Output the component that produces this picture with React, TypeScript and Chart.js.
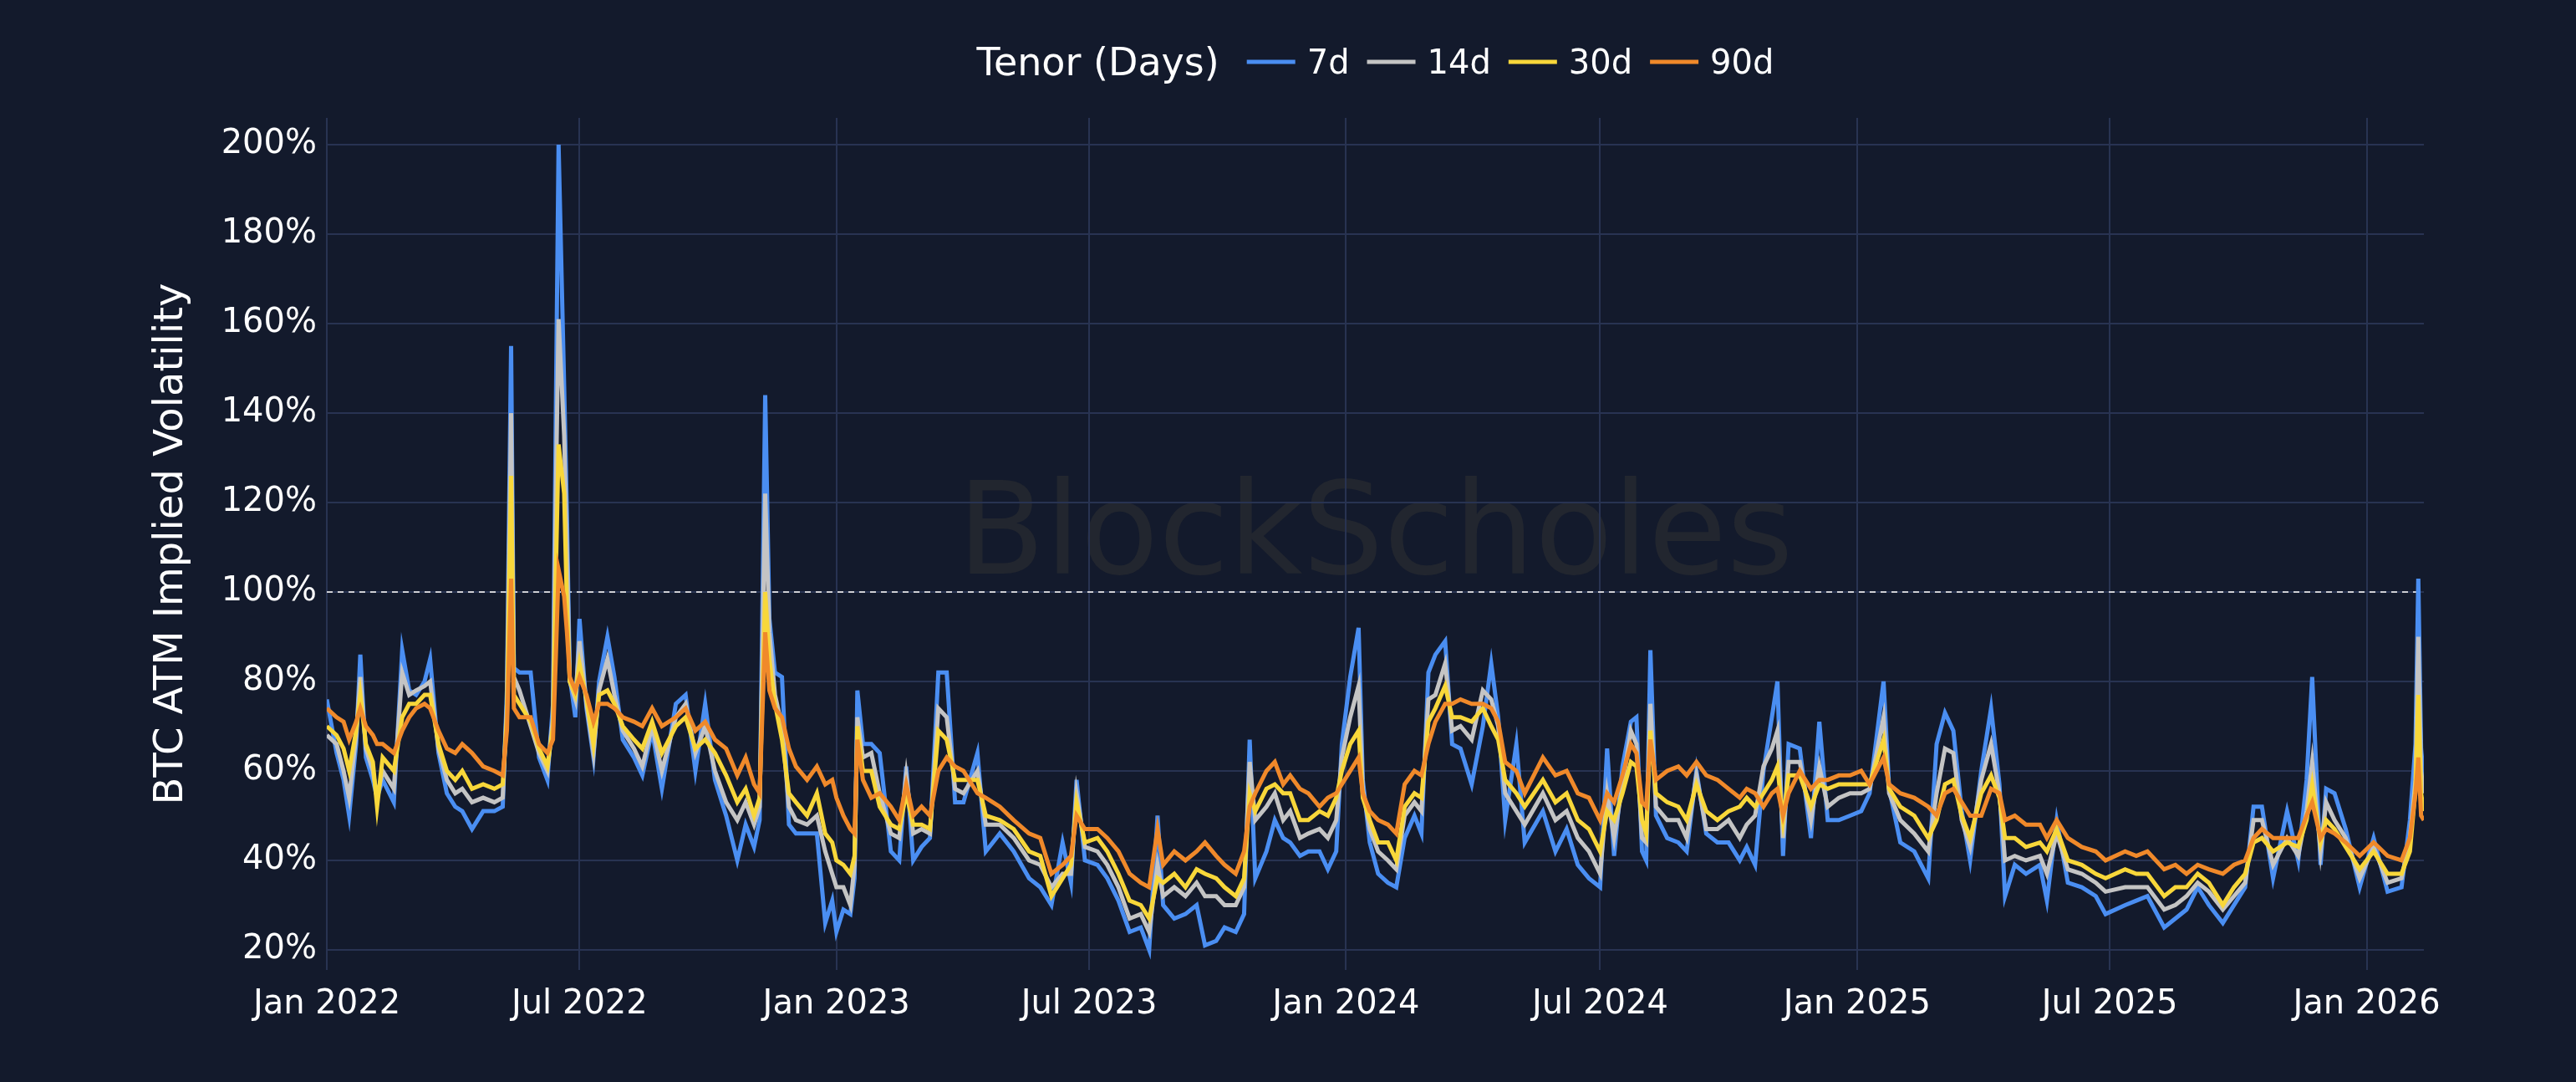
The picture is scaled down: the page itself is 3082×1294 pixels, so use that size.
import React, { useEffect, useRef } from 'react';
import { Chart, registerables } from 'chart.js';

Chart.register(...registerables);

const FONT = '"DejaVu Sans", Verdana, sans-serif';
const BG = '#131a2c';
const GRID = '#283352';

const START_DATE = '2022-01-01';
const TICK_DATES = ['2022-01-01', '2022-07-01', '2023-01-01', '2023-07-01', '2024-01-01', '2024-07-01', '2025-01-01', '2025-07-01', '2026-01-01'];
const TICK_LABELS = ['Jan 2022', 'Jul 2022', 'Jan 2023', 'Jul 2023', 'Jan 2024', 'Jul 2024', 'Jan 2025', 'Jul 2025', 'Jan 2026'];

const LEGEND_TITLE = 'Tenor (Days)';
const SERIES_LABELS = ['7d', '14d', '30d', '90d'];
const SERIES_COLORS = ['#4a8ef2', '#c4c4c4', '#f8d73a', '#f0892a'];

// days since 2022-01-01
const DAYS = [
  0, 7, 12, 16, 21, 24, 28, 33, 36, 40,
  48, 54, 59, 64, 70, 74, 80, 86, 92, 97,
  104, 112, 120, 126, 129, 132, 134, 138, 146, 152,
  158, 162, 164, 166, 170, 172, 174, 178, 181, 186,
  191, 195, 201, 206, 212, 220, 226, 233, 240, 250,
  257, 264, 271, 278, 286, 294, 300, 306, 310, 314,
  317, 321, 326, 331, 336, 344, 351, 357, 362, 365,
  370, 375, 378, 380, 384, 390, 396, 404, 410, 415,
  420, 426, 432, 438, 444, 450, 456, 466, 472, 482,
  492, 503, 511, 519, 527, 533, 537, 543, 552, 559,
  567, 575, 583, 589, 595, 599, 607, 615, 623, 629,
  637, 643, 651, 657, 661, 665, 673, 679, 685, 690,
  697, 703, 711, 717, 723, 727, 733, 739, 742, 747,
  753, 760, 766, 772, 779, 784, 789, 794, 801, 806,
  812, 820, 828, 834, 839, 844, 852, 858, 871, 880,
  888, 896, 904, 912, 917, 922, 928, 934, 938, 942,
  945, 948, 952, 960, 968, 974, 981, 988, 996, 1004,
  1012, 1017, 1023, 1029, 1035, 1039, 1043, 1047, 1055, 1063,
  1069, 1075, 1083, 1091, 1099, 1105, 1115, 1119, 1127, 1137,
  1147, 1153, 1159, 1165, 1171, 1177, 1185, 1192, 1198, 1202,
  1209, 1217, 1227, 1232, 1239, 1247, 1257, 1267, 1274, 1288,
  1296, 1304, 1316, 1324, 1332, 1340, 1348, 1358, 1366, 1374,
  1380, 1386, 1394, 1404, 1412, 1418, 1422, 1428, 1432, 1438,
  1446, 1456, 1466, 1476, 1486, 1492, 1496, 1498, 1500, 1502,
];

const IV_7D = [
  76, 64, 58, 50, 66, 86, 63, 58, 54, 58,
  53, 87, 78, 77, 80, 85, 64, 55, 52, 51,
  47, 51, 51, 52, 78, 155, 83, 82, 82, 63,
  58, 75, 139, 200, 146, 117, 81, 72, 94, 74,
  63, 80, 90, 81, 67, 63, 59, 69, 56, 75,
  77, 60, 75, 58, 50, 40, 48, 43, 49, 144,
  94, 82, 81, 48, 46, 46, 46, 26, 31, 24,
  29, 28, 36, 78, 66, 66, 64, 42, 40, 61,
  40, 43, 45, 82, 82, 53, 53, 64, 42, 46,
  42, 36, 34, 30, 44, 35, 58, 40, 39, 36,
  31, 24, 25, 20, 50, 30, 27, 28, 30, 21,
  22, 25, 24, 28, 67, 36, 42, 49, 45, 44,
  41, 42, 42, 38, 42, 66, 81, 92, 58, 44,
  37, 35, 34, 45, 50, 46, 82, 86, 89, 66,
  65, 57, 70, 84, 72, 49, 66, 44, 51, 42,
  47, 39, 36, 34, 65, 41, 61, 71, 72, 42,
  40, 87, 50, 45, 44, 42, 60, 46, 44, 44,
  40, 43, 39, 60, 72, 80, 41, 66, 65, 45,
  71, 49, 49, 50, 51, 55, 80, 56, 44, 42,
  36, 66, 73, 69, 51, 40, 60, 74, 57, 32,
  39, 37, 39, 31, 49, 35, 34, 32, 28, 30,
  31, 32, 25, 27, 29, 34, 30, 26, 30, 34,
  52, 52, 36, 51, 40, 58, 81, 39, 56, 55,
  47, 34, 45, 33, 34, 49, 66, 103, 65, 58,
];

const IV_14D = [
  68, 66, 60, 54, 68, 81, 65, 60, 54, 60,
  56, 82, 77, 78, 79, 80, 65, 58, 55, 56,
  53, 54, 53, 54, 75, 140, 81, 78, 70, 64,
  60, 72, 121, 161, 135, 109, 80, 76, 89, 75,
  64, 78, 85, 77, 69, 65, 61, 70, 60, 72,
  75, 64, 70, 60, 53, 49, 53, 48, 52, 122,
  91, 77, 70, 52, 49, 48, 50, 42, 37, 34,
  34, 30, 39, 72, 63, 64, 55, 46, 45, 59,
  46, 47, 46, 74, 72, 56, 55, 60, 48, 48,
  45, 40, 39, 34, 37, 37, 55, 43, 42, 39,
  34, 27, 28, 24, 39, 32, 34, 32, 35, 32,
  32, 30, 30, 34, 62, 49, 52, 55, 49, 51,
  45, 46, 47, 45, 49, 63, 72, 79, 56, 47,
  42, 40, 38, 50, 53, 51, 76, 77, 84, 69,
  70, 67, 78, 76, 70, 55, 51, 48, 55, 49,
  51, 45, 42, 37, 55, 45, 57, 69, 66, 45,
  44, 75, 52, 49, 49, 45, 59, 47, 47, 49,
  45, 48, 50, 61, 65, 69, 45, 62, 62, 49,
  61, 52, 54, 55, 55, 56, 72, 55, 49, 46,
  42, 55, 65, 64, 49, 43, 58, 66, 55, 40,
  41, 40, 41, 37, 46, 38, 37, 35, 33, 34,
  34, 34, 29, 30, 32, 35, 33, 29, 32, 35,
  49, 49, 39, 45, 41, 51, 62, 42, 53, 49,
  45, 36, 43, 35, 36, 45, 58, 90, 60, 55,
];

const IV_30D = [
  70, 68, 65, 60, 69, 77, 66, 62, 52, 63,
  60, 72, 75, 75, 77, 77, 66, 60, 58, 60,
  56, 57, 56, 57, 72, 126, 77, 75, 71, 65,
  61, 70, 103, 133, 122, 97, 80, 77, 84, 76,
  66, 77, 78, 75, 70, 67, 65, 71, 64, 70,
  72, 65, 67, 64, 59, 53, 56, 50, 54, 100,
  85, 75, 67, 55, 53, 50, 55, 46, 44, 40,
  39, 37, 41, 70, 60, 60, 52, 48, 47, 55,
  48, 48, 47, 69, 67, 58, 58, 58, 50, 49,
  47, 42, 41, 32, 36, 39, 53, 44, 45, 42,
  37, 31, 30, 27, 36, 35, 37, 34, 38, 37,
  36, 34, 32, 36, 55, 51, 56, 57, 55, 55,
  49, 49, 51, 50, 54, 60, 66, 69, 54, 49,
  44, 44, 40, 52, 55, 54, 71, 74, 79, 72,
  72, 71, 74, 70, 67, 58, 55, 52, 58, 53,
  55, 49, 47, 42, 51, 49, 55, 62, 61, 49,
  46, 69, 55, 53, 52, 49, 57, 51, 49, 51,
  52, 54, 52, 55, 58, 61, 49, 59, 59, 52,
  57, 56, 57, 57, 57, 57, 67, 56, 52, 50,
  45, 49, 57, 58, 50, 45, 55, 59, 54, 45,
  45, 43, 44, 42, 47, 40, 39, 37, 36, 38,
  37, 37, 32, 34, 34, 37, 35, 30, 34, 37,
  44, 45, 42, 44, 43, 49, 57, 44, 49, 47,
  43, 38, 42, 37, 37, 42, 56, 77, 55, 51,
];

const IV_90D = [
  74, 72, 71, 67, 71, 74, 70, 68, 66, 66,
  64, 69, 72, 74, 75, 74, 69, 65, 64, 66,
  64, 61, 60, 59, 69, 103, 74, 72, 72, 66,
  64, 67, 85, 105, 99, 91, 81, 78, 81, 77,
  71, 75, 75, 74, 72, 71, 70, 74, 70, 72,
  74, 69, 71, 67, 65, 59, 63, 57, 55, 91,
  78, 74, 72, 65, 61, 58, 61, 57, 58, 54,
  50, 47, 46, 67, 58, 54, 55, 52, 49, 57,
  50, 52, 50, 60, 63, 61, 60, 55, 54, 52,
  49, 46, 45, 37, 39, 41, 50, 47, 47, 45,
  42, 37, 35, 34, 47, 39, 42, 40, 42, 44,
  41, 39, 37, 42, 52, 55, 60, 62, 57, 59,
  56, 55, 52, 54, 55, 57, 60, 63, 55, 51,
  49, 48, 46, 57, 60, 59, 66, 71, 75, 75,
  76, 75, 75, 74, 71, 62, 60, 55, 63, 59,
  60, 55, 54, 49, 55, 53, 59, 66, 64, 53,
  52, 67, 58, 60, 61, 59, 62, 59, 58, 56,
  54, 56, 55, 52, 55, 56, 50, 55, 60, 56,
  58, 58, 59, 59, 60, 57, 63, 57, 55, 54,
  52, 50, 55, 56, 53, 50, 50, 56, 55, 49,
  50, 48, 48, 45, 49, 45, 43, 42, 40, 42,
  41, 42, 38, 39, 37, 39, 38, 37, 39, 40,
  45, 47, 45, 45, 45, 50, 53, 45, 47, 46,
  44, 41, 44, 41, 40, 45, 55, 63, 50, 49,
];

const SERIES_VALUES = [IV_7D, IV_14D, IV_30D, IV_90D];

const dayOf = (iso: string) => (Date.parse(iso) - Date.parse(START_DATE)) / 86400000;
const TICK_DAYS = TICK_DATES.map(dayOf);

const backgroundPlugin = {
  id: 'bg',
  beforeDraw(chart: Chart) {
    const { ctx, width, height, chartArea } = chart;
    ctx.save();
    ctx.fillStyle = BG;
    ctx.fillRect(0, 0, width, height);
    // watermark
    const text = 'BlockScholes';
    ctx.font = `150px ${FONT}`;
    const w = ctx.measureText(text).width;
    const size = 150 * (1000 / w);
    ctx.font = `${size}px ${FONT}`;
    ctx.fillStyle = '#22262f';
    ctx.textAlign = 'center';
    ctx.textBaseline = 'middle';
    ctx.fillText(text, (chartArea.left + chartArea.right) / 2, (chartArea.top + chartArea.bottom) / 2 - 4);
    ctx.restore();
  },
};

const refLinePlugin = {
  id: 'refLine',
  beforeDatasetsDraw(chart: Chart) {
    const { ctx, chartArea, scales } = chart;
    const y = scales.y.getPixelForValue(100);
    ctx.save();
    ctx.strokeStyle = 'rgba(235,235,235,0.85)';
    ctx.lineWidth = 2;
    ctx.setLineDash([7, 6]);
    ctx.beginPath();
    ctx.moveTo(chartArea.left, y);
    ctx.lineTo(chartArea.right, y);
    ctx.stroke();
    ctx.restore();
  },
};

const legendPlugin = {
  id: 'tenorLegend',
  afterDraw(chart: Chart) {
    const { ctx, chartArea } = chart;
    const y = 78;
    ctx.save();
    ctx.textBaseline = 'middle';
    ctx.textAlign = 'left';
    ctx.font = `46px ${FONT}`;
    const titleW = ctx.measureText(LEGEND_TITLE).width;
    ctx.font = `40px ${FONT}`;
    const itemWs = SERIES_LABELS.map((l) => ctx.measureText(l).width);
    const lineLen = 58;
    const total = titleW + 33 + itemWs.reduce((a, w) => a + lineLen + 14 + w, 0) + 21 * (itemWs.length - 1);
    let x = (chartArea.left + chartArea.right) / 2 - total / 2;
    ctx.fillStyle = '#ffffff';
    ctx.font = `46px ${FONT}`;
    ctx.fillText(LEGEND_TITLE, x, y);
    x += titleW + 33;
    ctx.font = `40px ${FONT}`;
    SERIES_LABELS.forEach((label, i) => {
      ctx.strokeStyle = SERIES_COLORS[i];
      ctx.lineWidth = 5;
      ctx.beginPath();
      ctx.moveTo(x, y - 4);
      ctx.lineTo(x + lineLen, y - 4);
      ctx.stroke();
      x += lineLen + 14;
      ctx.fillStyle = '#ffffff';
      ctx.fillText(label, x, y);
      x += itemWs[i] + 21;
    });
    ctx.restore();
  },
};

const App: React.FC = () => {
  const chartRef = useRef<HTMLCanvasElement>(null);
  const chartInstance = useRef<Chart | null>(null);

  useEffect(() => {
    if (!chartRef.current) return;
    const ctx = chartRef.current.getContext('2d');
    if (!ctx) return;
    if (chartInstance.current) chartInstance.current.destroy();

    chartInstance.current = new Chart(ctx, {
      type: 'line',
      data: {
        datasets: SERIES_LABELS.map((label, i) => ({
          label,
          data: DAYS.map((d, j) => ({ x: d, y: SERIES_VALUES[i][j] })),
          borderColor: SERIES_COLORS[i],
          backgroundColor: SERIES_COLORS[i],
          borderWidth: 5,
          pointRadius: 0,
          tension: 0,
          fill: false,
          order: SERIES_LABELS.length - i,
        })),
      },
      options: {
        responsive: true,
        maintainAspectRatio: false,
        animation: false,
        layout: { padding: { top: 141, right: 182, bottom: 0, left: 0 } },
        plugins: {
          legend: { display: false },
          tooltip: { enabled: false },
        },
        scales: {
          x: {
            type: 'linear',
            min: 0,
            max: 1502,
            grid: { color: GRID, lineWidth: 2, drawTicks: false },
            border: { display: false },
            afterBuildTicks: (scale: any) => {
              scale.ticks = TICK_DAYS.map((v) => ({ value: v }));
            },
            afterFit: (scale: any) => {
              scale.height = 134;
            },
            ticks: {
              color: '#ffffff',
              font: { family: FONT, size: 40 },
              padding: 18,
              maxRotation: 0,
              autoSkip: false,
              callback: (_v: any, i: number) => TICK_LABELS[i],
            },
          },
          y: {
            min: 15.5,
            max: 206,
            grid: { color: GRID, lineWidth: 2, drawTicks: false },
            border: { display: false },
            afterFit: (scale: any) => {
              scale.width = 391;
            },
            ticks: {
              stepSize: 20,
              includeBounds: false,
              color: '#ffffff',
              font: { family: FONT, size: 40 },
              padding: 12,
              callback: (v: any) => `${v}%`,
            },
            title: {
              display: true,
              text: 'BTC ATM Implied Volatility',
              color: '#ffffff',
              font: { family: FONT, size: 48 },
              padding: { top: 177, bottom: 0 },
            },
          },
        },
      },
      plugins: [backgroundPlugin, refLinePlugin, legendPlugin],
    });

    return () => {
      if (chartInstance.current) {
        chartInstance.current.destroy();
        chartInstance.current = null;
      }
    };
  }, []);

  return (
    <div style={{ position: 'fixed', left: 0, top: 0, width: '3082px', height: '1294px', background: BG }}>
      <canvas ref={chartRef} />
    </div>
  );
};

export default App;
